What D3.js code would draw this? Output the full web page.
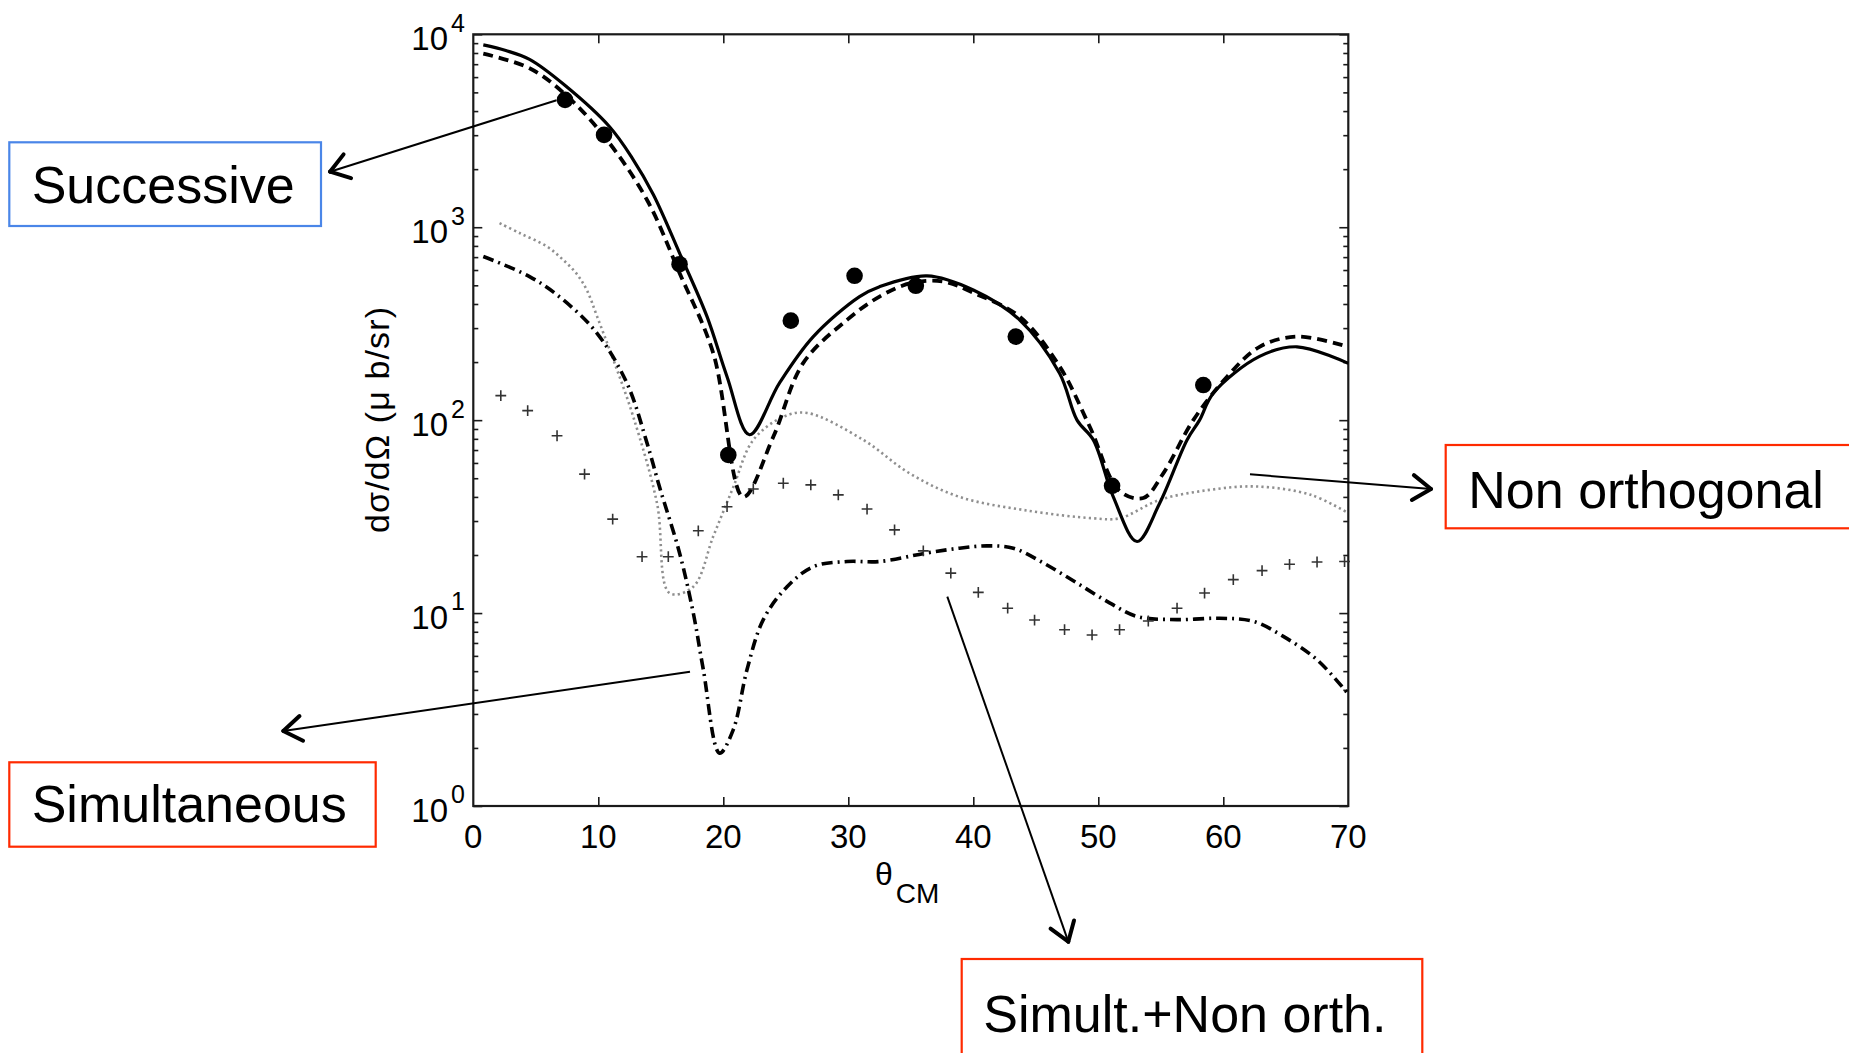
<!DOCTYPE html>
<html>
<head>
<meta charset="utf-8">
<script src="https://cdn.jsdelivr.net/npm/d3@7"></script>
<style>
  html, body { margin: 0; padding: 0; background: #fff; }
  svg { display: block; }
  text { font-family: "Liberation Sans", Arial, Helvetica, sans-serif; fill: #000; }
</style>
</head>
<body>
<svg id="chart" width="1849" height="1053"></svg>
<script>
// Differential cross section vs. centre-of-mass angle, log scale.

// Solid curve
const solidTheta = [0.8, 2.6, 4.5, 7.3, 10.9, 12.7, 14.4, 16.5, 18.7, 20.3, 22.1, 24.5, 27.2, 30.9, 32.5, 36.3, 40.0, 43.7, 46.9, 48.3, 49.6, 51.2, 53.1, 54.9, 57.1, 58.1, 59.2, 62.9, 65.9, 70.0];
const solidValue = [8810, 8240, 7413, 5458, 3319, 2291, 1479, 735, 344, 168, 84, 156, 271, 437, 492, 560, 473, 331, 175, 100, 79, 40, 23.5, 37, 79, 100, 138, 214, 240, 197];

// Dashed curve
const dashedTheta = [0.8, 4.5, 7.5, 10.7, 13.9, 16.5, 19.2, 21.6, 24.0, 26.4, 29.9, 32.5, 35.0, 37.6, 40.0, 43.7, 46.9, 49.3, 51.7, 53.6, 55.2, 57.6, 60.3, 62.9, 65.9, 70.0];
const dashedValue = [7943, 6668, 4786, 2831, 1384, 579, 222, 40, 82, 198, 331, 437, 513, 523, 457, 344, 190, 93, 43, 39.5, 53, 100, 168, 240, 271, 240];

// Dotted curve (non orthogonal)
const dottedTheta = [2.1, 3.7, 5.9, 7.2, 8.3, 9.1, 9.9, 11.2, 12.8, 14.7, 15.7, 17.6, 19.2, 20.8, 22.4, 24.8, 26.7, 31.2, 34.9, 38.9, 44.3, 49.6, 51.7, 54.9, 58.9, 62.7, 67.0, 70.0];
const dottedValue = [1050, 933, 794, 676, 570, 470, 345, 206, 104, 37, 12.7, 13.7, 25, 45, 79, 104, 109, 79, 53, 40, 34, 31, 31, 38.6, 43.5, 45.3, 41, 33];

// Dash-dot curve (simultaneous)
const dashDotTheta = [0.8, 4.5, 7.2, 9.9, 12.3, 13.9, 14.9, 16.5, 17.6, 18.4, 19.7, 20.8, 21.9, 23.2, 25.1, 27.2, 29.9, 32.5, 36.3, 38.9, 41.1, 43.2, 45.6, 48.3, 50.9, 53.1, 56.3, 59.7, 62.4, 64.8, 67.5, 70.0];
const dashDotValue = [705, 555, 420, 282, 155, 76, 45, 20.5, 10, 5.1, 1.88, 2.49, 5.1, 9.25, 13.7, 17.4, 18.5, 18.5, 20.5, 21.7, 22.3, 21.7, 18.2, 14.3, 11.3, 9.6, 9.25, 9.4, 9.06, 7.57, 5.73, 3.8];

// Plus markers (simultaneous + non orthogonal)
const plusTheta = [2.2, 4.35, 6.7, 8.9, 11.15, 13.5, 15.6, 18.0, 20.3, 22.4, 24.8, 27.0, 29.2, 31.5, 33.7, 36.0, 38.2, 40.4, 42.75, 44.9, 47.3, 49.5, 51.7, 54.0, 56.3, 58.5, 60.8, 63.1, 65.3, 67.5, 69.7];
const plusValue = [134, 112, 83, 52.5, 30.7, 19.6, 19.6, 26.7, 35.6, 44, 47.1, 46.2, 41, 34.6, 27, 21, 16.1, 12.8, 10.6, 9.2, 8.2, 7.7, 8.2, 9.1, 10.6, 12.7, 14.9, 16.6, 17.9, 18.4, 18.5];

// Measured points
const expTheta = [7.34, 10.46, 16.5, 20.4, 25.4, 30.5, 35.4, 43.4, 51.1, 58.4];
const expValue = [4570, 3010, 643, 66, 328, 560, 497, 271, 45.7, 152];

// Axis ticks
const xTicks = [0, 10, 20, 30, 40, 50, 60, 70];
const yDecades = [0, 1, 2, 3, 4];

// Annotation labels
const noteLabels = ["Successive", "Simultaneous", "Non orthogonal", "Simult.+Non orth."];

const svg = d3.select("#chart");
const plot = { left: 473.3, right: 1348.3, top: 34.3, bottom: 806 };

const x = d3.scaleLinear().domain([0, 70]).range([plot.left, plot.right]);
const y = d3.scaleLog().domain([1, 10000]).range([plot.bottom, plot.top]);

const zip = (a, b) => a.map((t, i) => [t, b[i]]);

svg.append("defs").append("clipPath").attr("id", "plotClip")
  .append("rect")
  .attr("x", plot.left).attr("y", plot.top)
  .attr("width", plot.right - plot.left).attr("height", plot.bottom - plot.top);

// Axes: ticks pointing inward on all four sides
const minorVals = [];
yDecades.slice(0, -1).forEach(d => { for (let k = 2; k <= 9; k++) minorVals.push(k * Math.pow(10, d)); });
const majorVals = yDecades.map(d => Math.pow(10, d));

const axes = svg.append("g").attr("class", "axes");
const tickStyle = sel => sel.call(g => g.select(".domain").remove())
  .call(g => g.selectAll("line").attr("stroke", "#1a1a1a").attr("stroke-width", 1.6))
  .call(g => g.selectAll("text").remove());

axes.append("g").attr("transform", `translate(0,${plot.bottom})`)
  .call(d3.axisBottom(x).tickValues(xTicks.slice(1, -1)).tickSize(-9)).call(tickStyle);
axes.append("g").attr("transform", `translate(0,${plot.top})`)
  .call(d3.axisTop(x).tickValues(xTicks.slice(1, -1)).tickSize(-9)).call(tickStyle);
axes.append("g").attr("transform", `translate(${plot.left},0)`)
  .call(d3.axisLeft(y).tickValues(majorVals).tickSize(-9)).call(tickStyle);
axes.append("g").attr("transform", `translate(${plot.left},0)`)
  .call(d3.axisLeft(y).tickValues(minorVals).tickSize(-5)).call(tickStyle);
axes.append("g").attr("transform", `translate(${plot.right},0)`)
  .call(d3.axisRight(y).tickValues(majorVals).tickSize(-9)).call(tickStyle);
axes.append("g").attr("transform", `translate(${plot.right},0)`)
  .call(d3.axisRight(y).tickValues(minorVals).tickSize(-5)).call(tickStyle);

axes.append("rect")
  .attr("x", plot.left).attr("y", plot.top)
  .attr("width", plot.right - plot.left).attr("height", plot.bottom - plot.top)
  .attr("fill", "none").attr("stroke", "#1a1a1a").attr("stroke-width", 2.2);

// x tick labels
svg.append("g").selectAll("text").data(xTicks).join("text")
  .attr("x", d => x(d)).attr("y", plot.bottom + 42)
  .attr("text-anchor", "middle").attr("font-size", 33)
  .text(d => d);

// y tick labels: 10 with superscript exponent
const yl = svg.append("g").selectAll("g").data(yDecades).join("g");
yl.append("text")
  .attr("x", 448).attr("y", d => y(Math.pow(10, d)) + 15.7)
  .attr("text-anchor", "end").attr("font-size", 33)
  .text("10");
yl.append("text")
  .attr("x", 451).attr("y", d => y(Math.pow(10, d)) - 2.6)
  .attr("font-size", 25)
  .text(d => d);

// axis titles
const xt = svg.append("text").attr("x", 875).attr("y", 885).attr("font-size", 32);
xt.append("tspan").text("θ");
xt.append("tspan").attr("dx", 3).attr("dy", 18).attr("font-size", 28).text("CM");

svg.append("text")
  .attr("transform", "translate(389,420) rotate(-90)")
  .attr("text-anchor", "middle").attr("font-size", 34)
  .attr("textLength", 226).attr("lengthAdjust", "spacing")
  .text("dσ/dΩ (μ b/sr)");

// Curves
const line = d3.line().x(d => x(d[0])).y(d => y(d[1])).curve(d3.curveCatmullRom.alpha(0.5));
const curves = svg.append("g").attr("clip-path", "url(#plotClip)");

curves.append("path").datum(zip(dottedTheta, dottedValue))
  .attr("d", line).attr("fill", "none")
  .attr("stroke", "#8f8f8f").attr("stroke-width", 2.6).attr("stroke-dasharray", "2.2,3.2");

curves.append("path").datum(zip(dashDotTheta, dashDotValue))
  .attr("d", line).attr("fill", "none")
  .attr("stroke", "#000").attr("stroke-width", 3.6).attr("stroke-dasharray", "11,5,2,5");

curves.append("path").datum(zip(dashedTheta, dashedValue))
  .attr("d", line).attr("fill", "none")
  .attr("stroke", "#000").attr("stroke-width", 3.8).attr("stroke-dasharray", "10,6");

curves.append("path").datum(zip(solidTheta, solidValue))
  .attr("d", line).attr("fill", "none")
  .attr("stroke", "#000").attr("stroke-width", 3.2);

// Plus markers
const pluses = svg.append("g").attr("stroke", "#333").attr("stroke-width", 1.6);
pluses.selectAll("path").data(zip(plusTheta, plusValue)).join("path")
  .attr("d", d => {
    const px = x(d[0]), py = y(d[1]), h = 5.4;
    return `M${px - h},${py}H${px + h}M${px},${py - h}V${py + h}`;
  });

// Measured points
svg.append("g").selectAll("circle").data(zip(expTheta, expValue)).join("circle")
  .attr("cx", d => x(d[0])).attr("cy", d => y(d[1])).attr("r", 8.3)
  .attr("fill", "#000");

// Annotation boxes and arrows
const notes = [
  { box: [9.3, 142.3, 311.7, 83.7], color: "#4a86e8", tx: 31.7, ty: 203.3, from: [556.6, 100.2], tip: [330, 171.7] },
  { box: [9.3, 762.3, 366.4, 84.4], color: "#ff2a00", tx: 31.7, ty: 821.7, from: [690, 671.7], tip: [283.3, 731] },
  { box: [1445.7, 445, 420, 83.3], color: "#ff2a00", tx: 1468.3, ty: 508.3, from: [1250, 474.3], tip: [1431, 489] },
  { box: [961.7, 959, 460.6, 120], color: "#ff2a00", tx: 983.3, ty: 1031.7, from: [947.3, 596.7], tip: [1068.3, 941.7] }
];

const ann = svg.append("g");
notes.forEach((n, i) => {
  ann.append("rect")
    .attr("x", n.box[0]).attr("y", n.box[1]).attr("width", n.box[2]).attr("height", n.box[3])
    .attr("fill", "#fff").attr("stroke", n.color).attr("stroke-width", 2.2);
  ann.append("text").attr("x", n.tx).attr("y", n.ty).attr("font-size", 52).text(noteLabels[i]);

  ann.append("line")
    .attr("x1", n.from[0]).attr("y1", n.from[1]).attr("x2", n.tip[0]).attr("y2", n.tip[1])
    .attr("stroke", "#000").attr("stroke-width", 2);
  const ang = Math.atan2(n.from[1] - n.tip[1], n.from[0] - n.tip[0]);
  const wing = 22, spread = 0.6;
  [-spread, spread].forEach(s => {
    ann.append("line")
      .attr("x1", n.tip[0]).attr("y1", n.tip[1])
      .attr("x2", n.tip[0] + wing * Math.cos(ang + s)).attr("y2", n.tip[1] + wing * Math.sin(ang + s))
      .attr("stroke", "#000").attr("stroke-width", 4).attr("stroke-linecap", "round");
  });
});
</script>
</body>
</html>
